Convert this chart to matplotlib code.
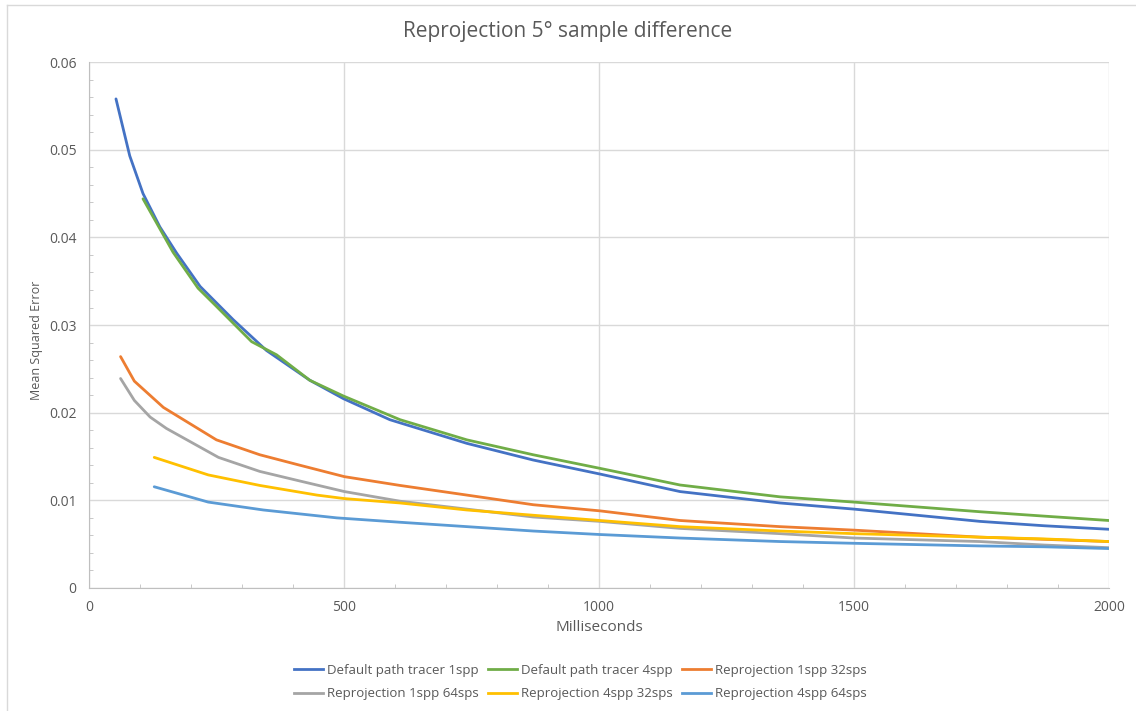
import matplotlib
matplotlib.use('Agg')
import matplotlib.pyplot as plt
from matplotlib.ticker import MultipleLocator
from matplotlib.lines import Line2D

plt.rcParams['font.family'] = ['Open Sans', 'DejaVu Sans']

# data (ms, mean squared error)
pt1_x = [53, 80, 106, 139, 172, 218, 283, 348, 433, 499, 590, 741, 871, 1002, 1159, 1355, 1500, 1747, 1873, 2000]
pt1_y = [0.0558, 0.0493, 0.0450, 0.0412, 0.0382, 0.0344, 0.0306, 0.0271, 0.0237, 0.0216, 0.0192, 0.0165,
         0.0146, 0.0130, 0.0110, 0.0097, 0.0090, 0.0076, 0.0071, 0.0067]

pt4_x = [106, 165, 214, 247, 319, 368, 433, 499, 610, 741, 871, 1002, 1159, 1355, 1500, 1747, 1873, 2000]
pt4_y = [0.0444, 0.0383, 0.0342, 0.0323, 0.0281, 0.0266, 0.0237, 0.0219, 0.0192, 0.0169, 0.0152, 0.01365,
         0.01175, 0.0104, 0.0098, 0.0087, 0.0082, 0.0077]

r1_32_x = [62, 89, 146, 250, 335, 414, 501, 610, 741, 871, 1002, 1159, 1355, 1500, 1747, 2000]
r1_32_y = [0.0264, 0.0236, 0.0206, 0.0169, 0.0152, 0.0140, 0.0127, 0.0117, 0.0106, 0.0095, 0.0088, 0.0077,
           0.0070, 0.0066, 0.0058, 0.0053]

r1_64_x = [62, 89, 120, 152, 254, 335, 414, 501, 610, 741, 871, 1002, 1159, 1355, 1500, 1747, 1873, 2000]
r1_64_y = [0.0239, 0.0214, 0.0195, 0.0182, 0.0149, 0.0133, 0.0122, 0.0110, 0.0099, 0.0090, 0.0081, 0.0076,
           0.0068, 0.0062, 0.0057, 0.0053, 0.0049, 0.0046]

r4_32_x = [128, 234, 335, 447, 501, 610, 741, 871, 1002, 1159, 1355, 1500, 1747, 1873, 2000]
r4_32_y = [0.0149, 0.0129, 0.0117, 0.0106, 0.0102, 0.0097, 0.0089, 0.0083, 0.0077, 0.0070, 0.0065, 0.0062,
           0.0058, 0.0056, 0.0053]

r4_64_x = [128, 234, 342, 486, 610, 741, 871, 1002, 1159, 1355, 1500, 1747, 1873, 2000]
r4_64_y = [0.01155, 0.0098, 0.0089, 0.0080, 0.0075, 0.0070, 0.0065, 0.0061, 0.0057, 0.0053, 0.0051, 0.0048,
           0.0047, 0.0045]

series = [
    ('Default path tracer 1spp', pt1_x, pt1_y, '#4472C4'),
    ('Default path tracer 4spp', pt4_x, pt4_y, '#70AD47'),
    ('Reprojection 1spp 32sps', r1_32_x, r1_32_y, '#ED7D31'),
    ('Reprojection 1spp 64sps', r1_64_x, r1_64_y, '#A5A5A5'),
    ('Reprojection 4spp 32sps', r4_32_x, r4_32_y, '#FFC000'),
    ('Reprojection 4spp 64sps', r4_64_x, r4_64_y, '#5B9BD5'),
]

txt = '#595959'
fig = plt.figure(figsize=(11.36, 7.11), dpi=100)
ax = fig.add_axes([0.0783, 0.173, 0.8979, 0.7397])

for name, xs, ys, c in series:
    ax.plot(xs, ys, color=c, lw=2.0, label=name, solid_capstyle='round')

ax.set_xlim(0, 2000)
ax.set_ylim(0, 0.06)
ax.xaxis.set_major_locator(MultipleLocator(500))
ax.xaxis.set_minor_locator(MultipleLocator(100))
ax.yaxis.set_minor_locator(MultipleLocator(0.002))
ax.set_yticks([0, 0.01, 0.02, 0.03, 0.04, 0.05, 0.06])
ax.set_yticklabels(['0', '0.01', '0.02', '0.03', '0.04', '0.05', '0.06'])
ax.grid(True, which='major', color='#D9D9D9', lw=1)
ax.set_axisbelow(True)
for s in ['top', 'right']:
    ax.spines[s].set_visible(False)
for s in ['left', 'bottom']:
    ax.spines[s].set_color('#BFBFBF')
ax.tick_params(which='major', length=0, labelsize=10, colors=txt, pad=9)
ax.tick_params(which='minor', direction='in', length=3, color='#BFBFBF')

ax.set_xlabel('Milliseconds', fontsize=11, color=txt, labelpad=3)
ax.set_ylabel('Mean Squared Error', fontsize=9, color=txt)
ax.yaxis.set_label_coords(-0.045, 0.47)
fig.suptitle('Reprojection 5° sample difference', fontsize=15, color=txt, y=0.97)

handles = [Line2D([], [], color=c, lw=2) for _, _, _, c in series]
labels = [n for n, _, _, _ in series]
# row-major order: reorder for column-filling legend
order = [0, 3, 1, 4, 2, 5]
fig.legend([handles[i] for i in order], [labels[i] for i in order], ncol=3, loc='center',
           bbox_to_anchor=(0.511, 0.041), frameon=False, fontsize=9.5, handlelength=2.2,
           handletextpad=0.3, columnspacing=0.7, labelspacing=0.8, labelcolor=txt)

# faint outer border (top and left only visible in the reference)
fig.add_artist(Line2D([7 / 1136, 1], [1 - 5 / 711, 1 - 5 / 711], color='#D9D9D9', lw=1))
fig.add_artist(Line2D([7 / 1136, 7 / 1136], [0, 1 - 5 / 711], color='#D9D9D9', lw=1))

fig.savefig('out.png', dpi=100)
